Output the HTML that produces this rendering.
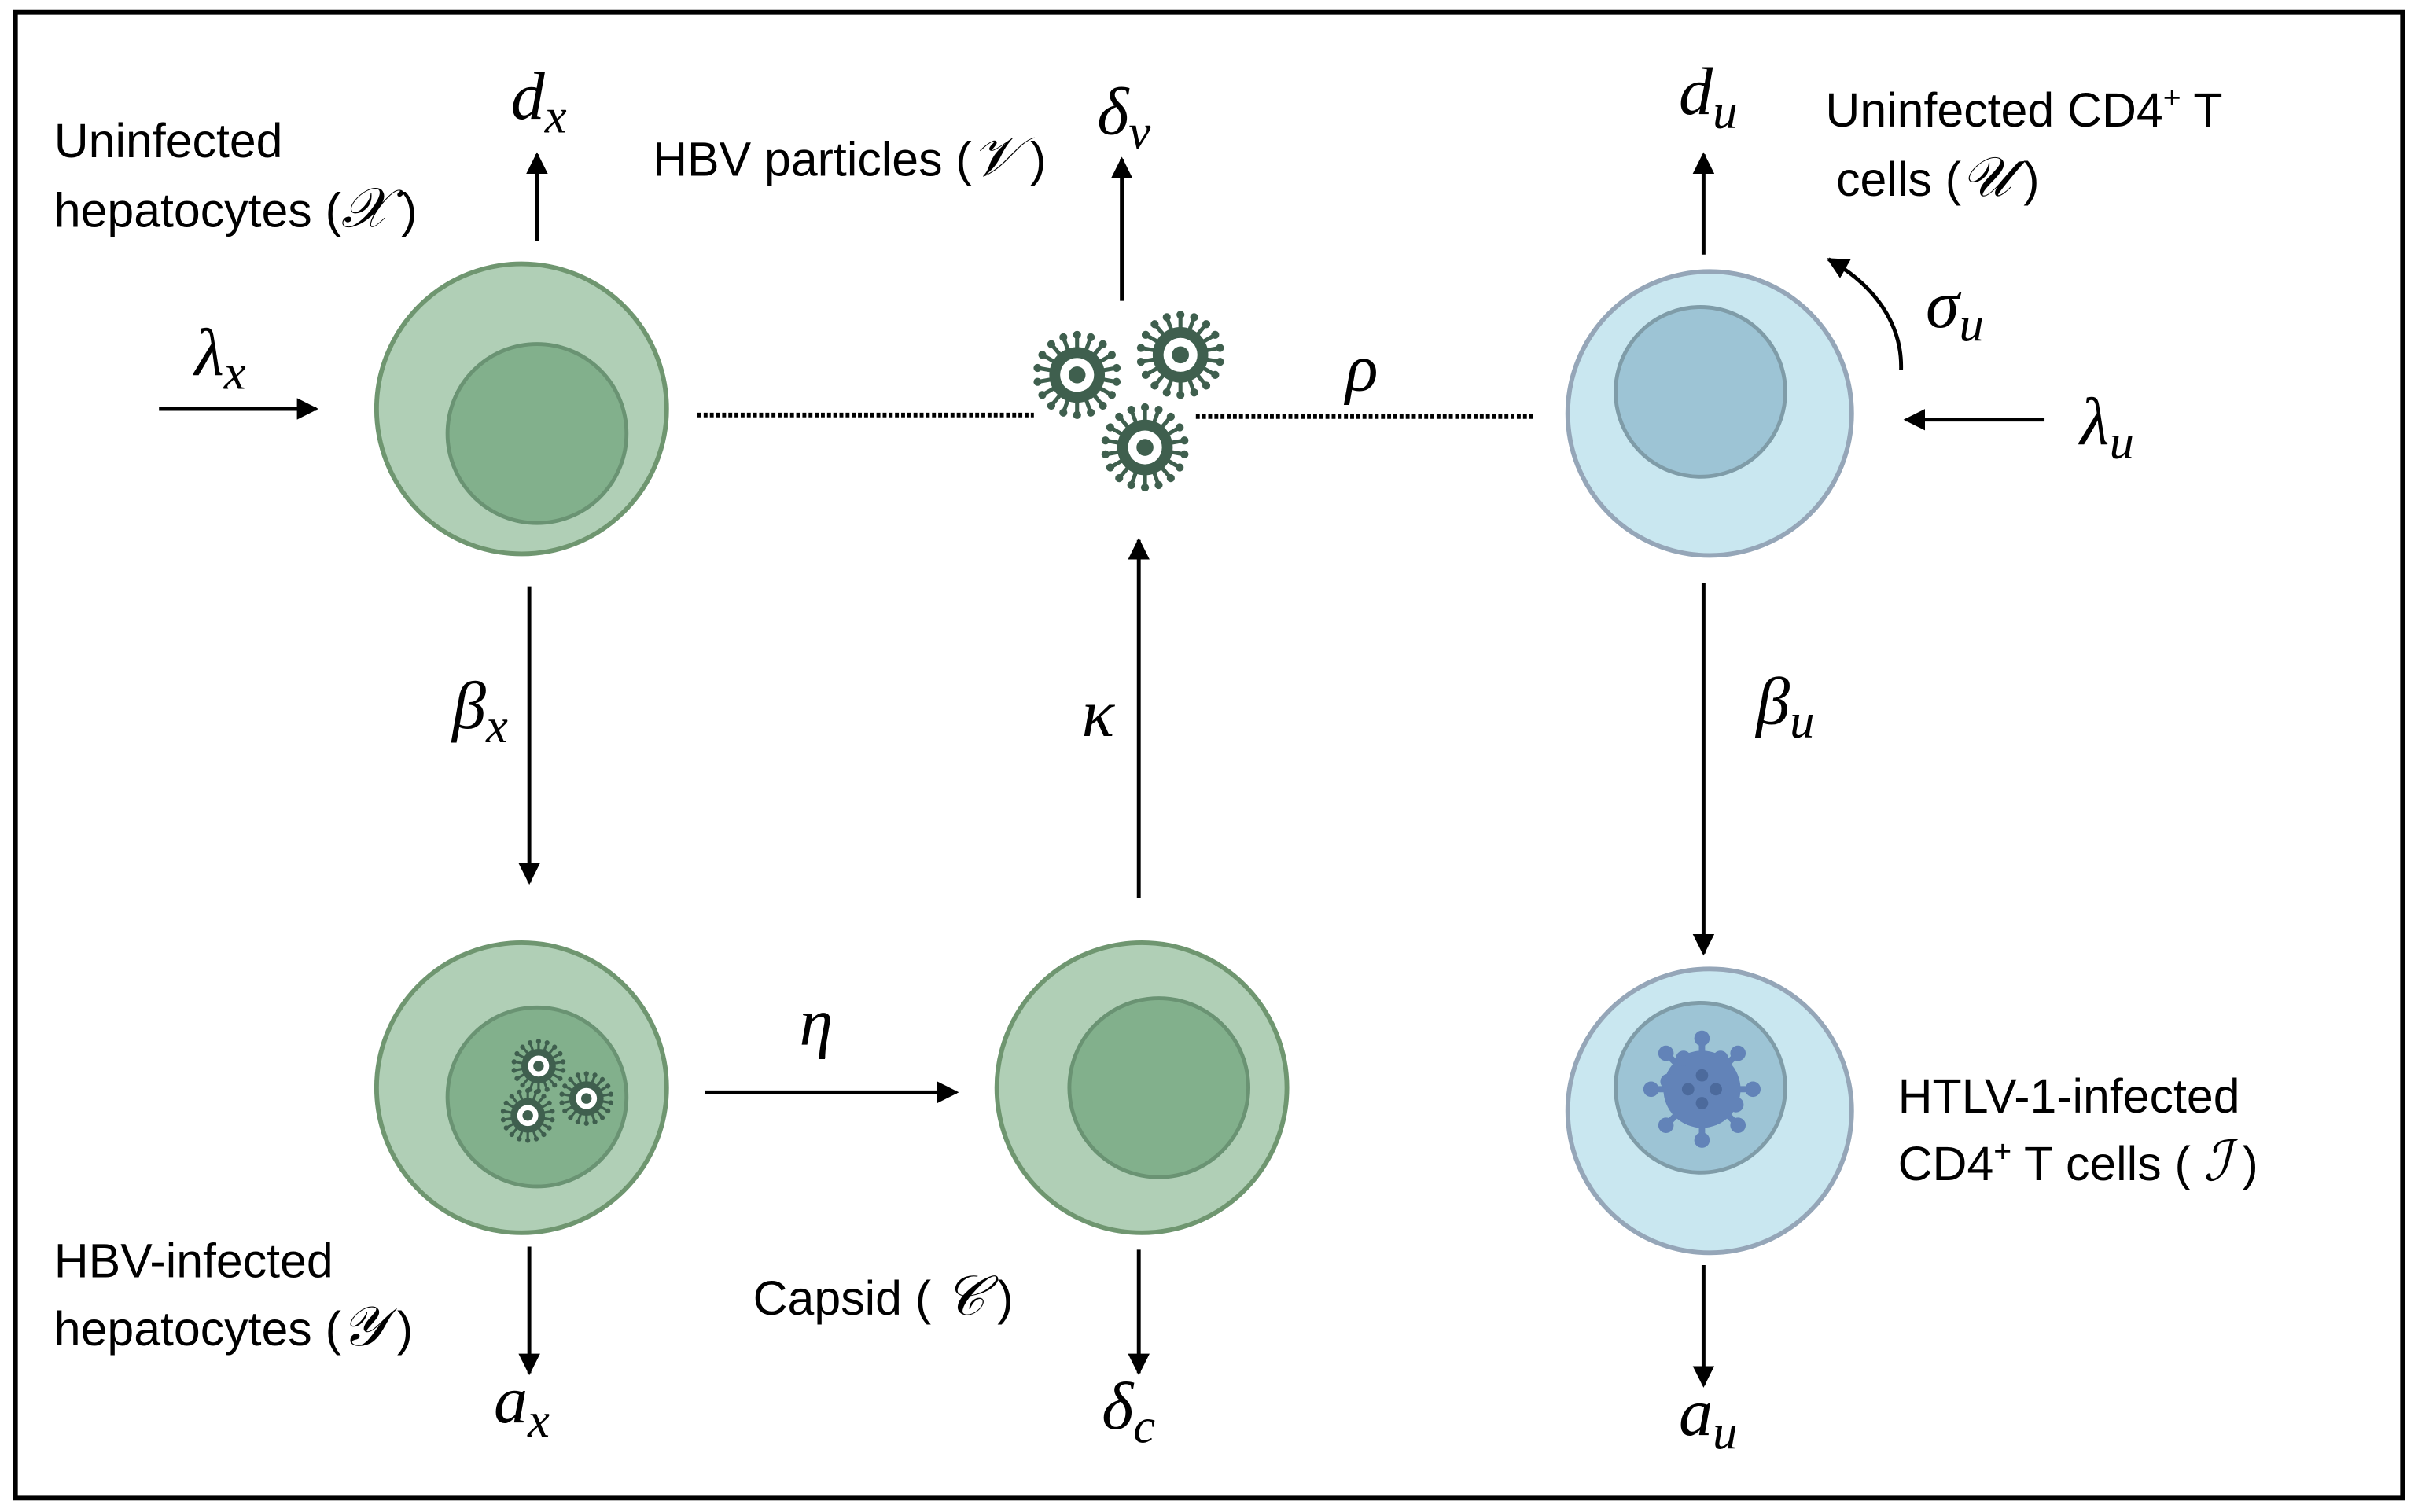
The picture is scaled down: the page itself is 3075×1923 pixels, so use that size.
<!DOCTYPE html>
<html><head><meta charset="utf-8"><style>
html,body{margin:0;padding:0;background:#fff}
svg{display:block}
.t{font-family:"Liberation Sans",sans-serif;font-size:31px;fill:#000}
.m{font-family:"Liberation Serif",serif;font-style:italic;fill:#000}
</style></head><body>
<svg width="3075" height="1923" viewBox="0 0 1567 980" xmlns="http://www.w3.org/2000/svg">
<defs>
<marker id="ah" viewBox="0 0 10 10" refX="9" refY="5" markerWidth="5.6" markerHeight="5.6" orient="auto" markerUnits="strokeWidth">
<path d="M0,0 L10,5 L0,10 z" fill="#000"/></marker>
<g id="sp"><line x1="0" y1="-15" x2="0" y2="-25" stroke="#3f5f4e" stroke-width="2.6"/><circle cx="0" cy="-26" r="2.6" fill="#3f5f4e"/></g>
<g id="v">
<use href="#sp"/><use href="#sp" transform="rotate(20)"/><use href="#sp" transform="rotate(40)"/><use href="#sp" transform="rotate(60)"/>
<use href="#sp" transform="rotate(80)"/><use href="#sp" transform="rotate(100)"/><use href="#sp" transform="rotate(120)"/><use href="#sp" transform="rotate(140)"/>
<use href="#sp" transform="rotate(160)"/><use href="#sp" transform="rotate(180)"/><use href="#sp" transform="rotate(200)"/><use href="#sp" transform="rotate(220)"/>
<use href="#sp" transform="rotate(240)"/><use href="#sp" transform="rotate(260)"/><use href="#sp" transform="rotate(280)"/><use href="#sp" transform="rotate(300)"/>
<use href="#sp" transform="rotate(320)"/><use href="#sp" transform="rotate(340)"/>
<circle r="18" fill="#3f5f4e"/><circle r="11" fill="#fff"/><circle r="5.5" fill="#3f5f4e"/>
</g>
<g id="hs"><line x1="0" y1="-18" x2="0" y2="-32" stroke="#6283b8" stroke-width="4"/><circle cx="0" cy="-33" r="5" fill="#6283b8"/></g>
</defs>
<rect x="10" y="8" width="1547" height="963" fill="none" stroke="#000" stroke-width="3"/>

<circle cx="338" cy="265" r="94" fill="#b0cfb6" stroke="#6f9670" stroke-width="3"/>
<circle cx="348" cy="281" r="58" fill="#82b08c" stroke="#6a9373" stroke-width="2.5"/>
<circle cx="338" cy="705" r="94" fill="#b0cfb6" stroke="#6f9670" stroke-width="3"/>
<circle cx="348" cy="711" r="58" fill="#82b08c" stroke="#6a9373" stroke-width="2.5"/>
<circle cx="740" cy="705" r="94" fill="#b0cfb6" stroke="#6f9670" stroke-width="3"/>
<circle cx="751" cy="705" r="58" fill="#82b08c" stroke="#6a9373" stroke-width="2.5"/>
<circle cx="1108" cy="268" r="92" fill="#c9e7f0" stroke="#95a6b8" stroke-width="3"/>
<circle cx="1102" cy="254" r="55" fill="#9dc4d5" stroke="#7f9ca8" stroke-width="2.5"/>
<circle cx="1108" cy="720" r="92" fill="#c9e7f0" stroke="#95a6b8" stroke-width="3"/>
<circle cx="1102" cy="705" r="55" fill="#9dc4d5" stroke="#7f9ca8" stroke-width="2.5"/>

<use href="#v" transform="translate(698,243)"/>
<use href="#v" transform="translate(765,230)"/>
<use href="#v" transform="translate(742,290)"/>
<use href="#v" transform="translate(349,691) scale(0.62)"/>
<use href="#v" transform="translate(380,712) scale(0.62)"/>
<use href="#v" transform="translate(342,723) scale(0.62)"/>
<g transform="translate(1103,706)">
<use href="#hs"/><use href="#hs" transform="rotate(45)"/><use href="#hs" transform="rotate(90)"/><use href="#hs" transform="rotate(135)"/>
<use href="#hs" transform="rotate(180)"/><use href="#hs" transform="rotate(225)"/><use href="#hs" transform="rotate(270)"/><use href="#hs" transform="rotate(315)"/>
<circle r="25" fill="#6283b8"/>
<circle cx="-12" cy="-20" r="5" fill="#6283b8"/><circle cx="12" cy="-20" r="5" fill="#6283b8"/>
<circle cx="-22" cy="-5" r="5" fill="#6283b8"/><circle cx="22" cy="10" r="5" fill="#6283b8"/>
<circle cx="0" cy="-9" r="4" fill="#4c6a9c"/><circle cx="0" cy="9" r="4" fill="#4c6a9c"/>
<circle cx="-9" cy="0" r="4" fill="#4c6a9c"/><circle cx="9" cy="0" r="4" fill="#4c6a9c"/>
</g>

<g stroke="#000" stroke-width="2.5" fill="none" marker-end="url(#ah)">
<line x1="348" y1="156" x2="348" y2="100"/>
<line x1="103" y1="265" x2="205" y2="265"/>
<line x1="343" y1="380" x2="343" y2="572"/>
<line x1="343" y1="808" x2="343" y2="890"/>
<line x1="457" y1="708" x2="620" y2="708"/>
<line x1="738" y1="810" x2="738" y2="890"/>
<line x1="738" y1="582" x2="738" y2="350"/>
<line x1="727" y1="195" x2="727" y2="103"/>
<line x1="1104" y1="165" x2="1104" y2="100"/>
<path d="M1232,240 C1233,210 1215,185 1185,168"/>
<line x1="1325" y1="272" x2="1235" y2="272"/>
<line x1="1104" y1="378" x2="1104" y2="618"/>
<line x1="1104" y1="820" x2="1104" y2="898"/>
</g>
<g stroke="#000" stroke-width="3" stroke-dasharray="2.5,1.5">
<line x1="452" y1="269" x2="670" y2="269"/>
<line x1="775" y1="270" x2="995" y2="270"/>
</g>

<g class="m" font-size="44">
<text x="331" y="77">d<tspan font-size="32" dy="9">x</tspan></text>
<text x="126" y="243">λ<tspan font-size="32" dy="9">x</tspan></text>
<text x="293" y="472">β<tspan font-size="32" dy="9">x</tspan></text>
<text x="320" y="922">a<tspan font-size="32" dy="9">x</tspan></text>
<text x="518" y="677">η</text>
<text x="714" y="926">δ<tspan font-size="32" dy="9">c</tspan></text>
<text x="701" y="477">κ</text>
<text x="711" y="87">δ<tspan font-size="32" dy="9">v</tspan></text>
<text x="872" y="253">ρ</text>
<text x="1088" y="74">d<tspan font-size="32" dy="9">u</tspan></text>
<text x="1248" y="212">σ<tspan font-size="32" dy="9">u</tspan></text>
<text x="1348" y="288">λ<tspan font-size="32" dy="9">u</tspan></text>
<text x="1138" y="469">β<tspan font-size="32" dy="9">u</tspan></text>
<text x="1088" y="930">a<tspan font-size="32" dy="9">u</tspan></text>
</g>

<text class="t" x="35" y="102">Uninfected</text>
<text class="t" x="35" y="147">hepatocytes (<tspan class="m" font-size="36">𝒳</tspan><tspan dx="8">)</tspan></text>
<text class="t" x="423" y="114">HBV particles (<tspan class="m" font-size="36">𝒱</tspan><tspan dx="8">)</tspan></text>
<text class="t" x="1183" y="82">Uninfected CD4<tspan font-size="20" dy="-12">+</tspan><tspan dy="12"> T</tspan></text>
<text class="t" x="1190" y="127">cells (<tspan class="m" font-size="36">𝒰</tspan><tspan dx="8">)</tspan></text>
<text class="t" x="1230" y="721">HTLV-1-infected</text>
<text class="t" x="1230" y="765">CD4<tspan font-size="20" dy="-12">+</tspan><tspan dy="12"> T cells ( </tspan><tspan class="m" font-size="36">ℐ</tspan><tspan dx="8">)</tspan></text>
<text class="t" x="35" y="828">HBV-infected</text>
<text class="t" x="35" y="872">hepatocytes (<tspan class="m" font-size="36">𝒴</tspan><tspan dx="8">)</tspan></text>
<text class="t" x="488" y="852">Capsid ( <tspan class="m" font-size="36">𝒞</tspan><tspan dx="8">)</tspan></text>
</svg>
</body></html>
